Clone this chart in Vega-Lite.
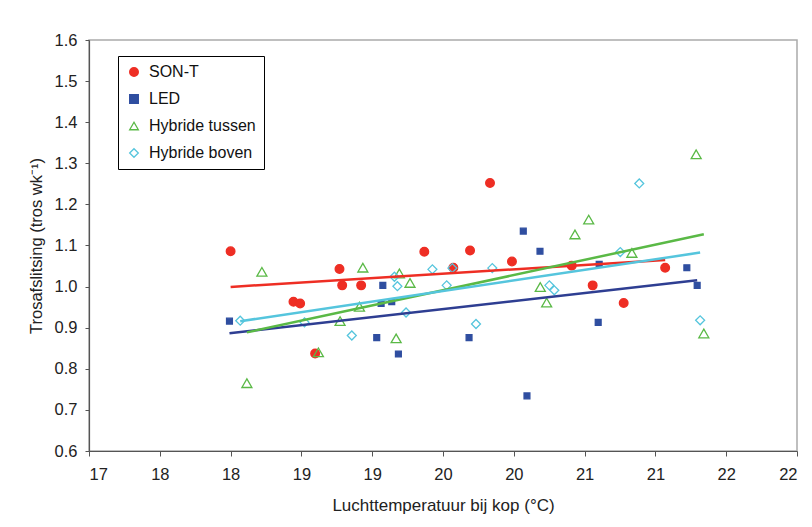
{
  "$schema": "https://vega.github.io/schema/vega-lite/v6.json",
  "width": 708,
  "height": 411,
  "autosize": {"type": "none"},
  "padding": {"left": 89, "top": 40, "right": 15, "bottom": 76},
  "background": "white",
  "config": {
    "view": {"stroke": "#aaaaaa", "strokeWidth": 1.5},
    "axis": {
      "labelFont": "Liberation Sans",
      "labelColor": "#222222",
      "titleFont": "Liberation Sans",
      "titleFontWeight": "normal",
      "titleColor": "#222222",
      "domainColor": "#555555",
      "tickColor": "#555555",
      "domainWidth": 1.2,
      "grid": false
    }
  },
  "data": {
    "values": [
      {"series": "SON-T", "temp": 18.00, "value": 1.086},
      {"series": "SON-T", "temp": 18.444, "value": 0.963},
      {"series": "SON-T", "temp": 18.491, "value": 0.959},
      {"series": "SON-T", "temp": 18.597, "value": 0.837},
      {"series": "SON-T", "temp": 18.769, "value": 1.043},
      {"series": "SON-T", "temp": 18.788, "value": 1.003},
      {"series": "SON-T", "temp": 18.922, "value": 1.003},
      {"series": "SON-T", "temp": 19.368, "value": 1.085},
      {"series": "SON-T", "temp": 19.573, "value": 1.046},
      {"series": "SON-T", "temp": 19.691, "value": 1.088},
      {"series": "SON-T", "temp": 19.832, "value": 1.252},
      {"series": "SON-T", "temp": 19.987, "value": 1.061},
      {"series": "SON-T", "temp": 20.409, "value": 1.051},
      {"series": "SON-T", "temp": 20.557, "value": 1.003},
      {"series": "SON-T", "temp": 20.776, "value": 0.960},
      {"series": "SON-T", "temp": 21.069, "value": 1.046},
      {"series": "LED", "temp": 17.992, "value": 0.916},
      {"series": "LED", "temp": 19.032, "value": 0.876},
      {"series": "LED", "temp": 19.063, "value": 0.959},
      {"series": "LED", "temp": 19.138, "value": 0.963},
      {"series": "LED", "temp": 19.075, "value": 1.003},
      {"series": "LED", "temp": 19.185, "value": 0.836},
      {"series": "LED", "temp": 19.684, "value": 0.876},
      {"series": "LED", "temp": 20.067, "value": 1.135},
      {"series": "LED", "temp": 20.185, "value": 1.086},
      {"series": "LED", "temp": 20.093, "value": 0.734},
      {"series": "LED", "temp": 20.603, "value": 1.054},
      {"series": "LED", "temp": 20.596, "value": 0.913},
      {"series": "LED", "temp": 21.222, "value": 1.046},
      {"series": "LED", "temp": 21.295, "value": 1.003},
      {"series": "Hybride tussen", "temp": 18.115, "value": 0.765},
      {"series": "Hybride tussen", "temp": 18.221, "value": 1.036},
      {"series": "Hybride tussen", "temp": 18.620, "value": 0.840},
      {"series": "Hybride tussen", "temp": 18.773, "value": 0.916},
      {"series": "Hybride tussen", "temp": 18.910, "value": 0.951},
      {"series": "Hybride tussen", "temp": 18.934, "value": 1.046},
      {"series": "Hybride tussen", "temp": 19.169, "value": 0.874},
      {"series": "Hybride tussen", "temp": 19.192, "value": 1.032},
      {"series": "Hybride tussen", "temp": 19.267, "value": 1.009},
      {"series": "Hybride tussen", "temp": 20.187, "value": 0.999},
      {"series": "Hybride tussen", "temp": 20.232, "value": 0.961},
      {"series": "Hybride tussen", "temp": 20.432, "value": 1.127},
      {"series": "Hybride tussen", "temp": 20.529, "value": 1.163},
      {"series": "Hybride tussen", "temp": 20.834, "value": 1.082},
      {"series": "Hybride tussen", "temp": 21.288, "value": 1.322},
      {"series": "Hybride tussen", "temp": 21.342, "value": 0.886},
      {"series": "Hybride boven", "temp": 18.068, "value": 0.917},
      {"series": "Hybride boven", "temp": 18.522, "value": 0.913},
      {"series": "Hybride boven", "temp": 18.856, "value": 0.881},
      {"series": "Hybride boven", "temp": 19.157, "value": 1.024},
      {"series": "Hybride boven", "temp": 19.178, "value": 1.001},
      {"series": "Hybride boven", "temp": 19.239, "value": 0.937},
      {"series": "Hybride boven", "temp": 19.425, "value": 1.042},
      {"series": "Hybride boven", "temp": 19.526, "value": 1.003},
      {"series": "Hybride boven", "temp": 19.566, "value": 1.045},
      {"series": "Hybride boven", "temp": 19.733, "value": 0.909},
      {"series": "Hybride boven", "temp": 19.848, "value": 1.045},
      {"series": "Hybride boven", "temp": 20.251, "value": 1.003},
      {"series": "Hybride boven", "temp": 20.286, "value": 0.991},
      {"series": "Hybride boven", "temp": 20.752, "value": 1.084},
      {"series": "Hybride boven", "temp": 20.886, "value": 1.251},
      {"series": "Hybride boven", "temp": 21.316, "value": 0.918}
    ]
  },
  "layer": [
    {
      "encoding": {
        "x": {
          "field": "temp",
          "type": "quantitative",
          "scale": {"domain": [17, 22], "nice": false, "zero": false},
          "axis": {
            "title": "Luchttemperatuur bij kop (°C)",
            "values": [17, 17.5, 18, 18.5, 19, 19.5, 20, 20.5, 21, 21.5, 22],
            "labelExpr": "round(datum.value)",
            "labelFontSize": 16.5,
            "titleFontSize": 17,
            "tickSize": 5,
            "labelPadding": 10,
            "titlePadding": 15
          }
        },
        "y": {
          "field": "value",
          "type": "quantitative",
          "scale": {"domain": [0.6, 1.6], "nice": false, "zero": false},
          "axis": {
            "title": "Trosafslitsing (tros wk⁻¹)",
            "values": [0.6, 0.7, 0.8, 0.9, 1.0, 1.1, 1.2, 1.3, 1.4, 1.5, 1.6],
            "format": ".1f",
            "labelFontSize": 16.5,
            "titleFontSize": 16.5,
            "tickSize": 4,
            "labelPadding": 8,
            "titlePadding": 10
          }
        },
        "shape": {
          "field": "series",
          "type": "nominal",
          "scale": {
            "domain": ["SON-T", "LED", "Hybride tussen", "Hybride boven"],
            "range": ["circle", "square", "triangle-up", "diamond"]
          },
          "legend": {
            "title": null,
            "orient": "none",
            "direction": "vertical",
            "legendX": 29,
            "legendY": 16,
            "strokeColor": "#000000",
            "fillColor": "#ffffff",
            "padding": 8,
            "rowPadding": 11,
            "labelOffset": 7,
            "symbolSize": 75,
            "symbolStrokeWidth": 1.3,
            "labelFont": "Liberation Sans",
            "labelFontSize": 16,
            "labelColor": "#111111"
          }
        },
        "fill": {
          "field": "series",
          "type": "nominal",
          "scale": {
            "domain": ["SON-T", "LED", "Hybride tussen", "Hybride boven"],
            "range": ["#EE2E24", "#2F4EA0", "#ffffff00", "#ffffff00"]
          }
        },
        "stroke": {
          "field": "series",
          "type": "nominal",
          "scale": {
            "domain": ["SON-T", "LED", "Hybride tussen", "Hybride boven"],
            "range": ["#EE2E24", "#2F4EA0", "#5AB946", "#55C5DD"]
          }
        }
      },
      "layer": [
        {
          "transform": [{"filter": "datum.series === 'SON-T'"}],
          "mark": {"type": "point", "strokeWidth": 1.3, "opacity": 1, "size": 75}
        },
        {
          "transform": [{"filter": "datum.series === 'LED'"}],
          "mark": {"type": "point", "strokeWidth": 1.3, "opacity": 1, "size": 34}
        },
        {
          "transform": [{"filter": "datum.series === 'Hybride tussen'"}],
          "mark": {"type": "point", "strokeWidth": 1.3, "opacity": 1, "size": 100}
        },
        {
          "transform": [{"filter": "datum.series === 'Hybride boven'"}],
          "mark": {"type": "point", "strokeWidth": 1.3, "opacity": 1, "size": 80}
        }
      ]
    },
    {
      "transform": [{"regression": "value", "on": "temp", "groupby": ["series"]}],
      "mark": {"type": "line", "strokeWidth": 2.5},
      "encoding": {
        "x": {"field": "temp", "type": "quantitative"},
        "y": {"field": "value", "type": "quantitative"},
        "color": {
          "field": "series",
          "type": "nominal",
          "scale": {
            "domain": ["SON-T", "LED", "Hybride tussen", "Hybride boven"],
            "range": ["#EE2E24", "#2E3E92", "#5AB946", "#55C5DD"]
          },
          "legend": null
        }
      }
    }
  ]
}
